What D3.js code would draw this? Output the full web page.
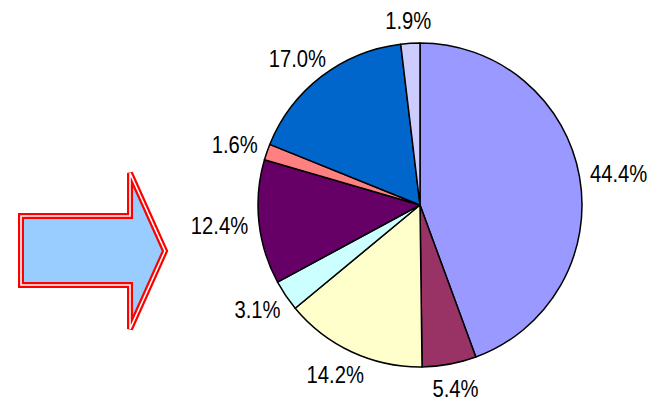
<!DOCTYPE html>
<html>
<head>
<meta charset="utf-8">
<script src="https://cdn.jsdelivr.net/npm/d3@7"></script>
<style>
  html, body { margin: 0; padding: 0; background: #fff; }
  svg { display: block; }
</style>
</head>
<body>
<svg id="chart" width="654" height="404"></svg>
<script>
// Data (clockwise from 12 o'clock)
const categories = ["A", "B", "C", "D", "E", "F", "G", "H"];
const values = [44.4, 5.4, 14.2, 3.1, 12.4, 1.6, 17.0, 1.9];
const labels = ["44.4%", "5.4%", "14.2%", "3.1%", "12.4%", "1.6%", "17.0%", "1.9%"];
const colors = ["#9999FF", "#993366", "#FFFFCC", "#CCFFFF", "#660066", "#FF8080", "#0066CC", "#CCCCFF"];

const svg = d3.select("#chart");
const cx = 420, cy = 205, r = 162;

// Arrow (decorative shape)
const ax = d3.scaleLinear().domain([0, 1]).range([21, 165]);
const arrowPts = [
  [0, 216], [0.757, 216], [0.757, 173], [1, 251], [0.757, 329], [0.757, 285], [0, 285]
].map(p => [ax(p[0]), p[1]]);
const arrowLine = d3.line().curve(d3.curveLinearClosed);
svg.append("path")
  .attr("d", arrowLine(arrowPts))
  .attr("fill", "#99CCFF")
  .attr("stroke", "#FF0000")
  .attr("stroke-width", 6)
  .attr("stroke-linejoin", "miter");
svg.append("path")
  .attr("d", arrowLine(arrowPts))
  .attr("fill", "none")
  .attr("stroke", "#FFFFFF")
  .attr("stroke-width", 1.6)
  .attr("stroke-linejoin", "miter");

// Pie
const pie = d3.pie().sort(null).value(d => d.v).startAngle(0).endAngle(2 * Math.PI);
const data = values.map((v, i) => ({ cat: categories[i], v, label: labels[i], color: colors[i] }));
const arcs = pie(data);
const arc = d3.arc().innerRadius(0).outerRadius(r);

const g = svg.append("g").attr("transform", `translate(${cx},${cy})`);
g.selectAll("path.slice")
  .data(arcs)
  .join("path")
  .attr("class", "slice")
  .attr("d", arc)
  .attr("fill", d => d.data.color)
  .attr("stroke", "#000")
  .attr("stroke-width", 1.5)
  .attr("stroke-linejoin", "round");

// Labels
const fontSize = 23, sx = 0.88;
const lbl = g.selectAll("g.lbl")
  .data(arcs)
  .join("g")
  .attr("class", "lbl");

lbl.each(function(d) {
  const a = (d.startAngle + d.endAngle) / 2;
  const s = Math.sin(a), c = Math.cos(a);
  d3.select(this).append("text")
    .text(d.data.label)
    .attr("font-family", "'Liberation Sans', Arial, sans-serif")
    .attr("font-size", fontSize)
    .attr("fill", "#000")
    .attr("text-anchor", "middle");
  const w = this.getBBox().width * sx;
  const capH = fontSize * 0.72;
  const hEff = 26;
  const R = r + 11;
  const px = R * s + (w / 2) * s;
  const py = -R * c - (hEff / 2) * c + 1;
  d3.select(this).attr("transform", `translate(${px},${py + capH / 2}) scale(${sx},1)`);
});
</script>
</body>
</html>
